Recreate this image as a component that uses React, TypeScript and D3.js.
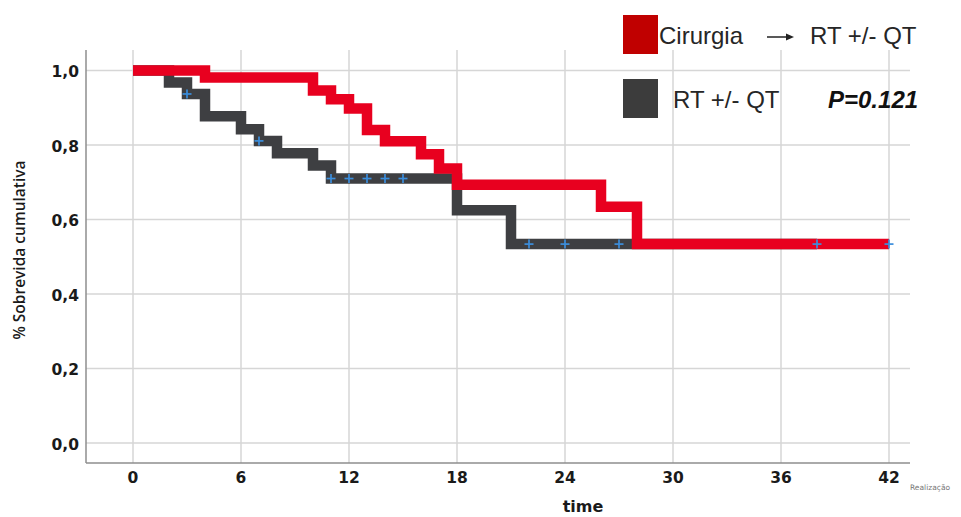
import React from "react";
import * as d3 from "d3";

// Kaplan–Meier estimates, months since start
const surgeryTimes = [0, 4, 10, 11, 12, 13, 14, 16, 17, 18, 26, 28, 42];
const surgerySurvival = [1.0, 0.981, 0.946, 0.923, 0.898, 0.84, 0.81, 0.775, 0.737, 0.693, 0.634, 0.534, 0.534];
const surgeryCensored = [42];

const rtTimes = [0, 2, 3, 4, 6, 7, 8, 10, 11, 18, 21, 38];
const rtSurvival = [1.0, 0.968, 0.937, 0.877, 0.842, 0.811, 0.778, 0.745, 0.71, 0.625, 0.534, 0.534];
const rtCensored = [3, 7, 11, 12, 13, 14, 15, 22, 24, 27, 38];

const xTicks = [0, 6, 12, 18, 24, 30, 36, 42];
const yTicks = [0, 0.2, 0.4, 0.6, 0.8, 1.0];

const legendLabels = ["Cirurgia", "RT +/- QT", "RT +/- QT"];
const pValueLabel = "P=0.121";

const W = 961;
const H = 517;
const plot = { left: 86, right: 910, top: 50, bottom: 463 };

const x = d3.scaleLinear().domain([0, 42]).range([133, 889]);
const y = d3.scaleLinear().domain([0, 1]).range([443, 70.5]);

const stepLine = d3
  .line<[number, number]>()
  .x((d) => x(d[0]))
  .y((d) => y(d[1]))
  .curve(d3.curveStepAfter);

const pairs = (ts: number[], ss: number[]): [number, number][] =>
  ts.map((t, i) => [t, ss[i]]);

const survivalAt = (ts: number[], ss: number[], t: number) => {
  const i = d3.bisectRight(ts, t) - 1;
  return ss[Math.max(0, i)];
};

const RED = "#E8001F";
const DARK = "#3E3F42";
const CENSOR = "#3B8EDC";

function Censor({ t, s }: { t: number; s: number }) {
  const cx = x(t);
  const cy = y(s);
  const h = 4.5;
  return (
    <g stroke={CENSOR} strokeWidth={1.7}>
      <line x1={cx - h} x2={cx + h} y1={cy} y2={cy} />
      <line x1={cx} x2={cx} y1={cy - h} y2={cy + h} />
    </g>
  );
}

export default function App() {
  const grid = "#D6D6D6";
  const axis = "#8E8E8E";
  return (
    <svg
      width={W}
      height={H}
      style={{ position: "absolute", left: 0, top: 0, background: "#fff" }}
    >
      <rect width={W} height={H} fill="#fff" />
      {/* grid */}
      {xTicks.map((t) => (
        <line
          key={"gx" + t}
          x1={x(t)}
          x2={x(t)}
          y1={plot.top}
          y2={plot.bottom}
          stroke={grid}
          strokeWidth={1.5}
        />
      ))}
      {yTicks.map((v) => (
        <line
          key={"gy" + v}
          x1={plot.left}
          x2={plot.right}
          y1={y(v)}
          y2={y(v)}
          stroke={grid}
          strokeWidth={1.5}
        />
      ))}
      {/* axes */}
      <line x1={plot.left} x2={plot.left} y1={plot.top} y2={plot.bottom} stroke={axis} strokeWidth={1.5} />
      <line x1={plot.left} x2={plot.right} y1={plot.bottom} y2={plot.bottom} stroke={axis} strokeWidth={1.5} />

      {/* tick labels */}
      {yTicks.map((v) => (
        <text
          key={"ty" + v}
          x={79}
          y={y(v) + 1.5}
          textAnchor="end"
          dominantBaseline="central"
          fontFamily="DejaVu Sans"
          fontWeight="bold"
          fontSize={15.5}
          fill="#1a1a1a"
        >
          {d3.format(".1f")(v).replace(".", ",")}
        </text>
      ))}
      {xTicks.map((t) => (
        <text
          key={"tx" + t}
          x={x(t)}
          y={483}
          textAnchor="middle"
          fontFamily="DejaVu Sans"
          fontWeight="bold"
          fontSize={15.5}
          fill="#1a1a1a"
        >
          {t}
        </text>
      ))}
      <text x={910} y={490} fontFamily="DejaVu Sans" fontSize={7.5} fill="#777">
        Realização
      </text>

      {/* axis titles */}
      <text
        x={583}
        y={512}
        textAnchor="middle"
        fontFamily="DejaVu Sans"
        fontWeight="bold"
        fontSize={16}
        fill="#1a1a1a"
      >
        time
      </text>
      <text
        transform="translate(25,250) rotate(-90)"
        textAnchor="middle"
        fontFamily="Open Sans"
        fontWeight={600}
        fontSize={15.5}
        fill="#1a1a1a"
      >
        % Sobrevida cumulativa
      </text>

      {/* survival curves */}
      <path
        d={stepLine(pairs(rtTimes, rtSurvival)) ?? ""}
        fill="none"
        stroke={DARK}
        strokeWidth={10.5}
        strokeLinejoin="miter"
        strokeLinecap="butt"
      />
      <path
        d={stepLine(pairs(surgeryTimes, surgerySurvival)) ?? ""}
        fill="none"
        stroke={RED}
        strokeWidth={10.5}
        strokeLinejoin="miter"
        strokeLinecap="butt"
      />
      {rtCensored.map((t) => (
        <Censor key={"cr" + t} t={t} s={survivalAt(rtTimes, rtSurvival, t)} />
      ))}
      {surgeryCensored.map((t) => (
        <Censor key={"cs" + t} t={t} s={survivalAt(surgeryTimes, surgerySurvival, t)} />
      ))}

      {/* legend */}
      <rect x={623} y={15} width={35} height={39} fill="#C00000" />
      <rect x={623} y={79} width={35} height={39} fill="#3C3C3C" />
      <g fontFamily="Liberation Sans, Arial" fontSize={24} fill="#262626">
        <text x={659} y={44}>{legendLabels[0]}</text>
        <text x={810} y={44}>{legendLabels[1]}</text>
        <text x={673} y={108}>{legendLabels[2]}</text>
        <text x={828} y={108} fontWeight="bold" fontStyle="italic" fill="#111">
          {pValueLabel}
        </text>
      </g>
      <line x1={767} x2={789} y1={37} y2={37} stroke="#222" strokeWidth={1.5} />
      <path d="M786,33.5 L794,37 L786,40.5 Z" fill="#222" />
    </svg>
  );
}
